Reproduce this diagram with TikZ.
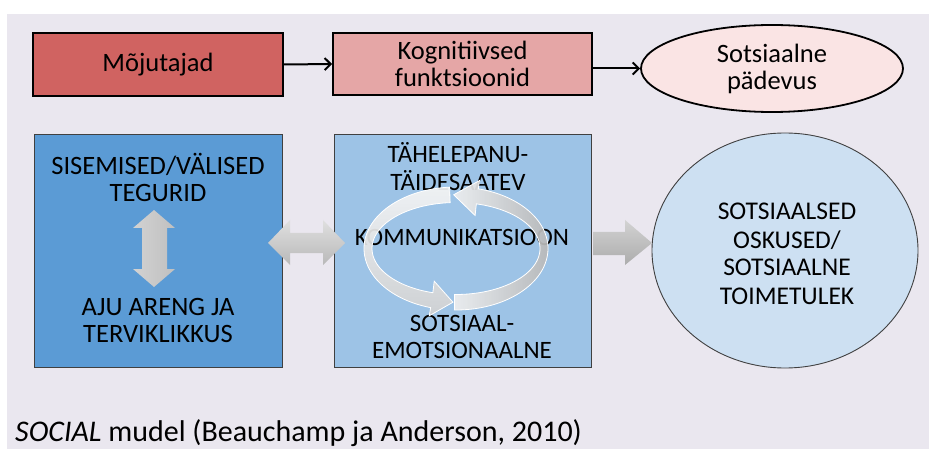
\documentclass[tikz,border=0pt]{standalone}
\usepackage{fontspec}
\setmainfont{Carlito}
\usetikzlibrary{arrows.meta,shapes.geometric}
\definecolor{bgcol}{RGB}{234,231,239}
\definecolor{redA}{RGB}{208,99,97}
\definecolor{redB}{RGB}{229,166,166}
\definecolor{redC}{RGB}{250,228,228}
\definecolor{blueA}{RGB}{91,155,213}
\definecolor{blueB}{RGB}{157,195,230}
\definecolor{blueC}{RGB}{205,224,242}
\definecolor{edgegray}{RGB}{64,64,64}
\tikzset{
  topbox/.style={draw=black, line width=1.8pt, inner sep=0pt, align=center,
    font=\fontsize{26.5}{27}\selectfont},
  rowbox/.style={draw=edgegray, line width=0.9pt, inner sep=0pt},
  toparrow/.style={draw=black, line width=2pt, -{Straight Barb[length=6pt,width=12pt]}},
  lineA/.style={inner sep=0pt, anchor=base, font=\fontsize{26.5}{27}\selectfont},
  lineB/.style={inner sep=0pt, anchor=base, font=\fontsize{25}{27}\selectfont},
  lineC/.style={inner sep=0pt, anchor=base, font=\fontsize{25.5}{28}\selectfont},
  ringarrow/.style={draw=white, line width=0.8pt, fill opacity=0.92},
  fatarrow/.style={draw=none}
}
\begin{document}
\begin{tikzpicture}[x=1pt,y=-1pt]
\useasboundingbox (0,0) rectangle (929,449);
\clip (0,0) rectangle (929,449);
\fill[white] (0,0) rectangle (929,449);
\fill[bgcol] (7,14) rectangle (929,449);

% top row
\node[topbox, fill=redA, minimum width=250pt, minimum height=63pt] (moj) at (158,64.5) {Mõjutajad};
\node[topbox, fill=redB, minimum width=259pt, minimum height=62pt] (kog) at (462.5,64) {Kognitiivsed\\funktsioonid};
\node[topbox, ellipse, fill=redC, minimum width=262pt, minimum height=87pt] (pad) at (772,68.5) {Sotsiaalne\\pädevus};
\draw[toparrow] (moj.east) -- (kog.west);
\draw[toparrow] (kog.east |- pad.west) -- (pad.west);

% second row boxes
\node[rowbox, fill=blueA, minimum width=248pt, minimum height=233pt] (tegur) at (158,250.5) {};
\node[rowbox, fill=blueB, minimum width=257pt, minimum height=233pt] (komm) at (462.5,250.5) {};
\node[rowbox, ellipse, fill=blueC, minimum width=266pt, minimum height=235pt] (osk) at (785,250.5) {};

% texts box 1
\node[lineA] (t1a) at (158,175) {SISEMISED/VÄLISED};
\node[lineA] (t1b) at (158,202) {TEGURID};
\node[lineA] (t1c) at (158,315) {AJU ARENG JA};
\node[lineA] (t1d) at (158,342) {TERVIKLIKKUS};

% texts box 2
\node[lineB] (t2a) at (458,163) {TÄHELEPANU-};
\node[lineB] (t2b) at (458,191) {TÄIDESAATEV};
\node[lineB] (t2c) at (462,246) {KOMMUNIKATSIOON};
\node[lineB] (t2d) at (462,331) {SOTSIAAL-};
\node[lineB] (t2e) at (462,358) {EMOTSIONAALNE};

% texts circle
\node[lineC] (t3a) at (787,220) {SOTSIAALSED};
\node[lineC] (t3b) at (787,248) {OSKUSED/};
\node[lineC] (t3c) at (787,276) {SOTSIAALNE};
\node[lineC] (t3d) at (787,304) {TOIMETULEK};

% vertical double arrow in box 1
\path[fatarrow, left color=gray!35, middle color=white, right color=gray!50]
  (154,210) -- (175,228) -- (167,228) -- (167,269) -- (175,269) -- (154,287)
  -- (133,269) -- (142,269) -- (142,228) -- (133,228) -- cycle;

% horizontal double arrow between boxes
\path[fatarrow, top color=gray!25, middle color=white, bottom color=gray!55]
  (268,243) -- (290,220) -- (290,233) -- (323,233) -- (323,220) -- (345,243)
  -- (323,265) -- (323,253) -- (290,253) -- (290,265) -- cycle;

% arrow to circle
\path[fatarrow, top color=gray!35, middle color=gray!25, bottom color=gray!65]
  (593,232) -- (625,232) -- (625,220) -- (652,243) -- (625,265) -- (625,255)
  -- (593,255) -- cycle;

% circular arrows
\path[ringarrow, top color=gray!8, bottom color=gray!35]
  plot[domain=266:106, samples=60] ({456+92*cos(\x)},{248.5+61.5*sin(\x)})
  -- ({456+97*cos(106)},{248.5+70*sin(106)})
  -- ({456+88*cos(92)},{248.5+53.75*sin(92)})
  -- ({456+79*cos(106)},{248.5+34*sin(106)})
  -- plot[domain=106:266, samples=60] ({456+84*cos(\x)},{248.5+46*sin(\x)})
  -- cycle;
\path[ringarrow, left color=gray!12, right color=gray!55]
  plot[domain=91:-76, samples=60] ({456+92*cos(\x)},{248.5+61.5*sin(\x)})
  -- ({456+97*cos(-76)},{248.5+70*sin(-76)})
  -- ({456+88*cos(-91.5)},{248.5+53.75*sin(-91.5)})
  -- ({456+79*cos(-76)},{248.5+34*sin(-76)})
  -- plot[domain=-76:91, samples=60] ({456+84*cos(\x)},{248.5+46*sin(\x)})
  -- cycle;

% caption
\node[inner sep=0pt, anchor=base west, font=\fontsize{30}{32}\selectfont] (cap) at (15,441)
  {\textit{SOCIAL} mudel (Beauchamp ja Anderson, 2010)};
\end{tikzpicture}
\end{document}
